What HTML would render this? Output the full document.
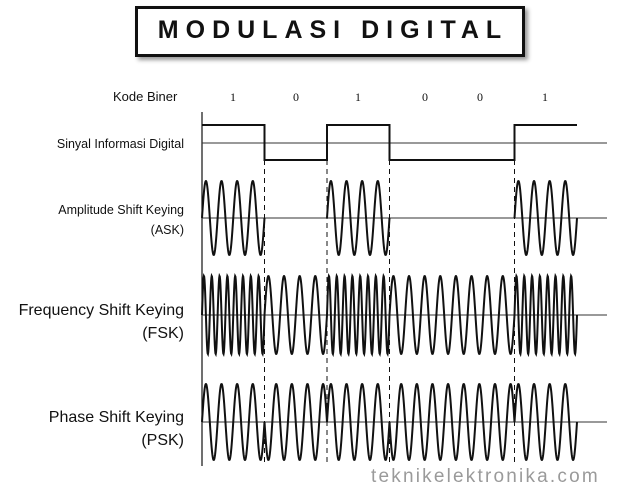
<!DOCTYPE html>
<html><head><meta charset="utf-8"><style>
body{margin:0;background:#fff;}
#wrap{position:relative;width:640px;height:496px;overflow:hidden;font-family:"Liberation Sans",sans-serif;}
.lbl{position:absolute;right:456px;text-align:right;color:#111;white-space:nowrap;}
</style></head><body>
<div id="wrap">
<div style="position:absolute;left:135px;top:6px;width:384px;height:45px;border:3px solid #111;box-shadow:3px 3px 4px #999;background:#fff;"></div>
<div style="position:absolute;left:135px;top:16px;width:396px;text-align:center;font-weight:bold;font-size:25px;letter-spacing:7px;color:#111;white-space:nowrap;">MODULASI DIGITAL</div>
<div class="lbl" style="top:89px;right:auto;left:113px;font-size:13px;">Kode Biner</div>
<div class="lbl" style="top:137px;font-size:12.5px;">Sinyal Informasi Digital</div>
<div class="lbl" style="top:200px;font-size:12.5px;line-height:20px;">Amplitude Shift Keying<br>(ASK)</div>
<div class="lbl" style="top:299px;font-size:16px;line-height:23px;">Frequency Shift Keying<br>(FSK)</div>
<div class="lbl" style="top:406px;font-size:16px;line-height:23px;">Phase Shift Keying<br>(PSK)</div>
<div style="position:absolute;left:371px;top:466px;font-size:19px;color:#9a9a9a;letter-spacing:2.2px;">teknikelektronika.com</div>
<svg id="chart" width="640" height="496" style="position:absolute;left:0;top:0;"></svg>
</div>
<script>
const bits=[1,0,1,0,0,1];
const bitLabelX=[233,296,358,425,480,545];
const askCycles=[4,0,4,0,0,4];
const fskCycles=[8,4,8,4,4,8];
const pskPhase=[0,1,0,1,1,0];
const NS="http://www.w3.org/2000/svg";
const svg=document.getElementById('chart');
const x0=202,bw=62.5;
const bx=i=>x0+i*bw;
function add(tag,attrs,name){const e=document.createElementNS(NS,tag);for(const k in attrs)e.setAttribute(k,attrs[k]);


svg.appendChild(e);return e;}
add('line',{x1:x0,y1:112,x2:x0,y2:466,stroke:'#111','stroke-width':1.2},'vertical-axis');
bits.forEach((b,i)=>{const t=add('text',{x:bitLabelX[i],y:101,'font-size':12,'font-family':'Liberation Serif,serif','text-anchor':'middle',fill:'#111'},'bit-label');t.textContent=String(b);});
[[143,'digital-baseline'],[218,'ask-baseline'],[315,'fsk-baseline'],[422,'psk-baseline']].forEach(([y,n])=>add('line',{x1:x0,y1:y,x2:607,y2:y,stroke:'#333','stroke-width':1},n));
for(let i=1;i<bits.length;i++){if(bits[i]!==bits[i-1])add('line',{x1:bx(i),y1:160,x2:bx(i),y2:466,stroke:'#111','stroke-width':1,'stroke-dasharray':'5,4'},'bit-boundary');}
let d='';bits.forEach((b,i)=>{const y=b?125:160;d+=(i===0?'M':'L')+bx(i)+','+y+'L'+bx(i+1)+','+y;});
add('path',{d:d,fill:'none',stroke:'#111','stroke-width':2},'digital-signal');
function wave(yc,amp,fn,name){let p='';for(let i=0;i<bits.length;i++){for(let k=0;k<=200;k++){const t=k/200;const v=fn(i,t);p+=(p===''?'M':'L')+(bx(i)+t*bw).toFixed(2)+','+(yc-amp*v).toFixed(2);}}
add('path',{d:p,fill:'none',stroke:'#111','stroke-width':2},name);}
for(let i=0;i<bits.length;i++){if(!askCycles[i])continue;let p='';for(let k=0;k<=200;k++){const t=k/200;p+=(k?'L':'M')+(bx(i)+t*bw).toFixed(2)+','+(218-37*Math.sin(2*Math.PI*askCycles[i]*t)).toFixed(2);}
add('path',{d:p,fill:'none',stroke:'#111','stroke-width':2},'ask-burst');}
wave(315,39,(i,t)=>Math.sin(2*Math.PI*fskCycles[i]*t),'fsk-signal');
wave(422,38,(i,t)=>Math.sin(2*Math.PI*4*t+Math.PI*pskPhase[i]),'psk-signal');
</script>
</body></html>
